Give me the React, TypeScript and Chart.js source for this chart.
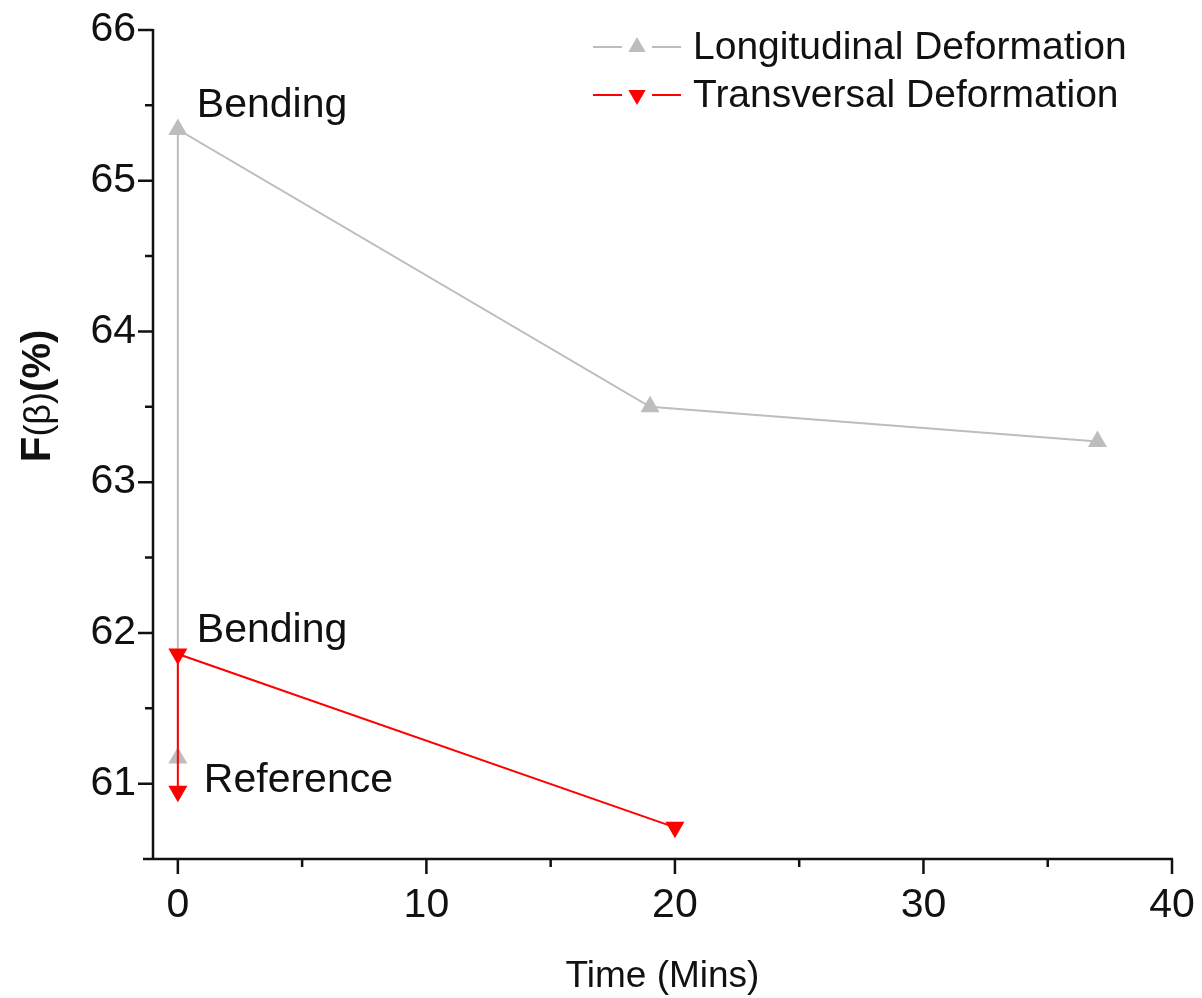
import React, { useEffect, useRef } from "react";
import { Chart, registerables } from "chart.js";

Chart.register(...registerables);

// Measured F(β) values over time for the two deformation directions
const longTime = [0, 0, 19, 37];
const longValue = [61.17, 65.34, 63.5, 63.27];
const transTime = [0, 0, 20];
const transValue = [60.95, 61.86, 60.71];

const seriesNames = ["Longitudinal Deformation", "Transversal Deformation"];

// Axis ticks
const xMajorTicks = [0, 10, 20, 30, 40];
const xMinorTicks = [5, 15, 25, 35];
const yMajorTicks = [61, 62, 63, 64, 65, 66];
const yMinorTicks = [61.5, 62.5, 63.5, 64.5, 65.5];

// Point labels: text and the data point they sit next to
const noteTexts = ["Bending", "Bending", "Reference"];
const noteTimes = [0, 0, 0];
const noteValues = [65.34, 61.86, 60.95];

const GREY = "#bdbdbd";
const RED = "#ff0000";
const INK = "#111111";
const FONT = "'Liberation Sans', Arial, sans-serif";

const toPoints = (xs: number[], ys: number[]) => xs.map((x, i) => ({ x, y: ys[i] }));

const drawTriangle = (ctx: CanvasRenderingContext2D, x: number, y: number, r: number, down: boolean, color: string) => {
  ctx.save();
  ctx.translate(x, y);
  if (down) ctx.rotate(Math.PI);
  ctx.beginPath();
  for (let k = 0; k < 3; k++) {
    const a = (k * 2 * Math.PI) / 3;
    const px = Math.sin(a) * r;
    const py = -Math.cos(a) * r;
    if (k === 0) ctx.moveTo(px, py);
    else ctx.lineTo(px, py);
  }
  ctx.closePath();
  ctx.fillStyle = color;
  ctx.fill();
  ctx.restore();
};

const decorations = {
  id: "decorations",
  afterDraw(chart: any) {
    const { ctx, chartArea, scales } = chart;
    const xs = scales.x;
    const ys = scales.y;
    const left = chartArea.left;
    const bottom = chartArea.bottom;

    ctx.save();
    ctx.strokeStyle = INK;
    ctx.lineWidth = 2.5;
    ctx.lineCap = "butt";

    // axis lines
    ctx.beginPath();
    ctx.moveTo(left - 10, bottom);
    ctx.lineTo(xs.getPixelForValue(40) + 1, bottom);
    ctx.moveTo(left, bottom);
    ctx.lineTo(left, ys.getPixelForValue(66) - 1);
    ctx.stroke();

    // tick marks
    ctx.beginPath();
    xMajorTicks.forEach((v) => {
      const p = xs.getPixelForValue(v);
      ctx.moveTo(p, bottom);
      ctx.lineTo(p, bottom + 15);
    });
    xMinorTicks.forEach((v) => {
      const p = xs.getPixelForValue(v);
      ctx.moveTo(p, bottom);
      ctx.lineTo(p, bottom + 8);
    });
    yMajorTicks.forEach((v) => {
      const p = ys.getPixelForValue(v);
      ctx.moveTo(left, p);
      ctx.lineTo(left - 15, p);
    });
    yMinorTicks.forEach((v) => {
      const p = ys.getPixelForValue(v);
      ctx.moveTo(left, p);
      ctx.lineTo(left - 8, p);
    });
    ctx.stroke();

    // point labels
    ctx.fillStyle = INK;
    ctx.font = `41px ${FONT}`;
    ctx.textAlign = "left";
    ctx.textBaseline = "alphabetic";
    noteTexts.forEach((t, i) => {
      const px = xs.getPixelForValue(noteTimes[i]);
      const py = ys.getPixelForValue(noteValues[i]);
      if (t === "Reference") ctx.fillText(t, px + 26, py + 1);
      else ctx.fillText(t, px + 19, py - 12);
    });

    // x axis title
    ctx.textAlign = "center";
    ctx.font = `37px ${FONT}`;
    ctx.fillText("Time (Mins)", (chartArea.left + chartArea.right) / 2, 987);

    // y axis title, rotated
    ctx.save();
    ctx.translate(50, 396);
    ctx.rotate(-Math.PI / 2);
    const parts = [
      { t: "F", f: `bold 42px ${FONT}` },
      { t: "(β)", f: `36px ${FONT}` },
      { t: "(%)", f: `bold 40px ${FONT}` },
    ];
    let total = 0;
    parts.forEach((p) => {
      ctx.font = p.f;
      total += ctx.measureText(p.t).width;
    });
    let cx = -total / 2;
    ctx.textAlign = "left";
    parts.forEach((p) => {
      ctx.font = p.f;
      ctx.fillText(p.t, cx, 0);
      cx += ctx.measureText(p.t).width;
    });
    ctx.restore();

    // legend
    const rows = [
      { name: seriesNames[0], color: GREY, down: false, y: 47 },
      { name: seriesNames[1], color: RED, down: true, y: 95 },
    ];
    ctx.font = `39px ${FONT}`;
    ctx.textAlign = "left";
    ctx.textBaseline = "middle";
    rows.forEach((r) => {
      ctx.strokeStyle = r.color;
      ctx.lineWidth = 2;
      ctx.beginPath();
      ctx.moveTo(593, r.y);
      ctx.lineTo(622, r.y);
      ctx.moveTo(652, r.y);
      ctx.lineTo(681, r.y);
      ctx.stroke();
      drawTriangle(ctx, 637, r.y, 10, r.down, r.color);
      ctx.fillStyle = INK;
      ctx.fillText(r.name, 693, r.y + 1);
    });

    ctx.restore();
  },
};

export default function App() {
  const canvasRef = useRef<HTMLCanvasElement | null>(null);

  useEffect(() => {
    if (!canvasRef.current) return;
    const chart = new Chart(canvasRef.current, {
      type: "scatter",
      data: {
        datasets: [
          {
            label: seriesNames[1],
            data: toPoints(transTime, transValue),
            showLine: true,
            borderColor: RED,
            backgroundColor: RED,
            borderWidth: 2,
            pointStyle: "triangle",
            rotation: 180,
            pointRadius: 11,
            pointBorderWidth: 0,
            order: 0,
          },
          {
            label: seriesNames[0],
            data: toPoints(longTime, longValue),
            showLine: true,
            borderColor: GREY,
            backgroundColor: GREY,
            borderWidth: 2,
            pointStyle: "triangle",
            pointRadius: 11,
            pointBorderWidth: 0,
            order: 1,
          },
        ],
      },
      options: {
        animation: false,
        responsive: true,
        maintainAspectRatio: false,
        layout: { padding: { top: 30, right: 30, left: 0, bottom: 0 } },
        plugins: {
          legend: { display: false },
          tooltip: { enabled: false },
        },
        scales: {
          x: {
            type: "linear",
            min: -1,
            max: 40,
            grid: { display: false, drawTicks: false, tickLength: 0 },
            border: { display: false },
            ticks: {
              stepSize: 10,
              includeBounds: false,
              padding: 22,
              color: INK,
              font: { family: FONT, size: 41 },
              maxRotation: 0,
            },
            afterFit: (s: any) => {
              s.height = 139;
              s.paddingLeft = 0;
              s.paddingRight = 0;
            },
          },
          y: {
            type: "linear",
            min: 60.5,
            max: 66,
            grid: { display: false, drawTicks: false, tickLength: 0 },
            border: { display: false },
            ticks: {
              stepSize: 1,
              includeBounds: false,
              padding: 17,
              color: INK,
              font: { family: FONT, size: 41 },
            },
            afterFit: (s: any) => {
              s.width = 153;
              s.paddingTop = 0;
              s.paddingBottom = 0;
            },
          },
        },
      },
      plugins: [decorations],
    });
    return () => chart.destroy();
  }, []);

  return (
    <div style={{ position: "absolute", left: 0, top: 0, width: 1202, height: 998, background: "#fff" }}>
      <canvas ref={canvasRef} />
    </div>
  );
}
